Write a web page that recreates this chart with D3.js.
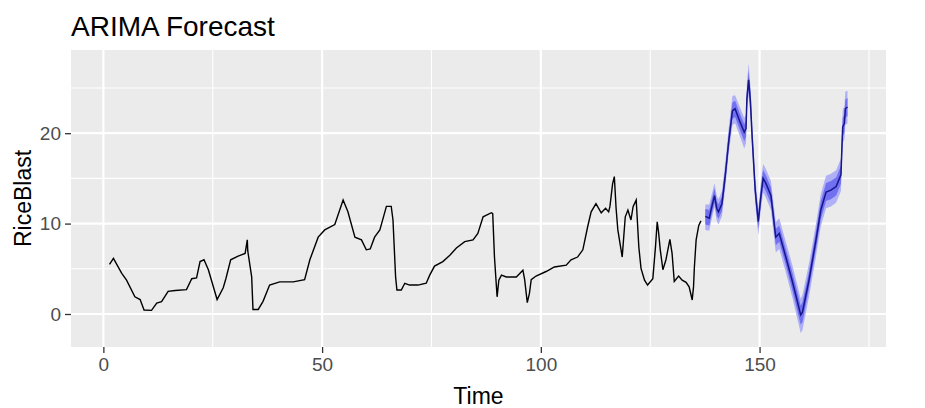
<!DOCTYPE html>
<html>
<head>
<meta charset="utf-8">
<script src="https://cdn.jsdelivr.net/npm/d3@7"></script>
<style>
    body { margin: 0; background: #fff; }
    text { font-family: "Liberation Sans", Arial, sans-serif; }
</style>
</head>
<body>
<div id="chart-view"></div>
<script>
// observed series (time, value)
var obsTime = [1.4, 2.3, 4.2, 5.3, 7.2, 8.4, 9.3, 11.0, 12.2, 13.3, 14.8, 16.4, 19.0, 20.2, 21.3, 22.1, 23.0, 24.0,
    26.0, 27.4, 28.0, 29.1, 30.8, 32.4, 32.9, 33.0, 33.9, 34.2, 35.4, 36.5, 38.0, 40.3, 43.4, 46.0, 47.2, 49.1,
    50.6, 52.9, 54.8, 55.9, 57.5, 59.0, 60.1, 61.0, 62.0, 63.2, 64.7, 65.8, 66.2, 66.8, 67.1, 68.1, 68.9, 70.0,
    71.9, 73.8, 74.6, 75.7, 77.6, 79.2, 80.7, 82.6, 84.5, 85.6, 86.8, 88.7, 89.0, 89.4, 90.0, 90.4, 91.0, 92.1,
    94.4, 95.9, 96.3, 96.9, 97.4, 97.8, 98.9, 101.2, 103.1, 105.8, 106.9, 108.4, 109.6, 110.7, 111.5, 112.6,
    113.8, 114.8, 115.5, 115.8, 116.4, 116.8, 117.2, 117.6, 118.6, 119.3, 119.9, 120.6, 121.1, 121.8, 122.4,
    122.9, 123.7, 124.4, 125.6, 126.2, 126.6, 126.9, 127.3, 127.9, 128.6, 129.5, 130.0, 130.5, 131.5, 132.3,
    133.2, 133.9, 134.6, 134.9, 135.1, 135.5, 136.1, 136.6];
var obsValue = [5.5, 6.15, 4.5, 3.75, 1.9, 1.6, 0.44, 0.4, 1.2, 1.36, 2.5, 2.6, 2.7, 3.9, 4.0, 5.8, 6.0, 4.9,
    1.6, 2.9, 3.9, 6.0, 6.4, 6.7, 8.2, 7.0, 4.1, 0.5, 0.5, 1.4, 3.2, 3.55, 3.55, 3.8, 6.0, 8.5,
    9.3, 9.9, 12.6, 11.3, 8.5, 8.2, 7.1, 7.2, 8.5, 9.3, 11.9, 11.9, 10.4, 4.1, 2.65, 2.65, 3.4, 3.2,
    3.2, 3.4, 4.3, 5.3, 5.8, 6.5, 7.3, 8.0, 8.2, 8.9, 10.75, 11.2, 11.1, 6.3, 1.9, 3.75, 4.3, 4.1,
    4.1, 4.85, 3.8, 1.25, 2.3, 3.8, 4.2, 4.7, 5.2, 5.4, 6.0, 6.3, 7.1, 9.65, 11.3, 12.2,
    11.2, 11.7, 11.3, 11.9, 14.4, 15.2, 11.7, 9.3, 6.3, 10.75, 11.5, 10.4, 11.9, 12.6, 7.4,
    5.05, 3.75, 3.2, 3.9, 7.4, 10.2, 9.1, 7.1, 4.9, 6.0, 8.25, 6.7, 3.6, 4.2, 3.75,
    3.5, 3.0, 1.55, 3.0, 5.2, 8.2, 9.8, 10.3];

// forecast: point forecast plus 80% and 95% intervals
var fcTime = [137.6, 138.5, 139.1, 139.7, 140.2, 140.6, 141.4, 142.2, 142.9, 143.8, 144.4, 145.4, 146.5, 146.9,
    147.1, 147.5, 147.9, 148.3, 149.0, 149.7, 150.3, 150.8, 151.4, 152.6, 153.7, 154.5, 156.0, 157.5, 159.4,
    159.8, 161.3, 162.9, 164.0, 165.2, 166.3, 167.5, 168.6, 169.0, 169.4, 169.6, 170.1];
var fcMean = [10.8, 10.6, 11.9, 13.1, 11.7, 11.3, 12.2, 15.5, 18.9, 22.5, 22.7, 21.4, 20.1, 20.5,
    23.8, 25.9, 23.6, 19.6, 13.7, 10.2, 13.0, 15.0, 14.5, 13.1, 8.5, 8.9, 6.3, 3.6, -0.1,
    0.2, 3.75, 8.2, 11.5, 13.5, 13.7, 14.1, 15.4, 20.7, 21.1, 22.7, 22.9];
var fcLo80 = [9.9, 9.8, 11.1, 12.3, 10.9, 10.5, 11.4, 14.7, 18.1, 21.6, 21.8, 20.5, 19.1, 19.6,
    22.9, 24.9, 22.7, 18.8, 12.9, 9.4, 12.2, 14.1, 13.6, 12.2, 7.6, 8.0, 5.4, 2.6, -1.2,
    -0.9, 2.8, 7.2, 10.5, 12.5, 12.7, 13.1, 14.4, 19.7, 20.1, 21.7, 21.9];
var fcHi80 = [11.6, 11.5, 12.7, 13.9, 12.5, 12.1, 13.0, 16.3, 19.7, 23.4, 23.6, 22.3, 21.0, 21.4,
    24.7, 26.9, 24.5, 20.4, 14.5, 11.0, 13.9, 15.9, 15.4, 14.0, 9.4, 9.8, 7.2, 4.6, 0.9,
    1.3, 4.7, 9.2, 12.5, 14.5, 14.7, 15.1, 16.4, 21.7, 22.1, 23.7, 23.9];
var fcLo95 = [9.3, 9.2, 10.6, 11.8, 10.3, 9.9, 10.8, 14.1, 17.5, 20.9, 21.1, 19.8, 18.3, 18.9,
    22.2, 24.2, 22.0, 18.1, 12.2, 8.7, 11.5, 13.4, 12.9, 11.5, 6.8, 7.2, 4.6, 1.8, -2.1,
    -1.8, 1.9, 6.4, 9.7, 11.7, 11.9, 12.3, 13.6, 18.9, 19.3, 20.9, 21.1];
var fcHi95 = [12.1, 12.1, 13.3, 14.5, 13.1, 12.7, 13.6, 17.0, 20.4, 24.1, 24.2, 23.0, 21.7, 22.1,
    25.6, 27.7, 25.3, 21.1, 15.2, 11.7, 14.6, 16.6, 16.1, 14.7, 10.2, 10.6, 8.0, 5.4, 1.7,
    2.1, 5.6, 10.0, 13.3, 15.3, 15.5, 15.9, 17.2, 22.6, 23.0, 24.6, 24.7];

// axis ticks and limits
var xTicks = [0, 50, 100, 150];
var xMinor = [25, 75, 125, 175];
var yTicks = [0, 10, 20];
var yMinor = [-5, 5, 15, 25];
var xLimits = [-7.4, 178.9];
var yLimits = [-3.65, 29.2];

/** Class drawing the forecast chart. */
class ForecastChart {
    constructor() {
        this.width = 925;
        this.height = 408;
        this.margin = {left: 71, right: 39, top: 50, bottom: 61};

        this.svg = d3.select("#chart-view")
            .append("svg")
            .attr("width", this.width)
            .attr("height", this.height);

        this.obs = obsTime.map(function(t, i) { return {t: t, v: obsValue[i]}; });
        this.fc = fcTime.map(function(t, i) {
            return {t: t, v: fcMean[i], lo80: fcLo80[i], hi80: fcHi80[i], lo95: fcLo95[i], hi95: fcHi95[i]};
        });
    }

    draw() {
        var m = this.margin;
        var pw = this.width - m.left - m.right;
        var ph = this.height - m.top - m.bottom;

        var x = d3.scaleLinear().domain(xLimits).range([m.left, m.left + pw]);
        var y = d3.scaleLinear().domain(yLimits).range([m.top + ph, m.top]);

        // panel background
        this.svg.append("rect")
            .attr("x", m.left).attr("y", m.top)
            .attr("width", pw).attr("height", ph)
            .attr("fill", "#ebebeb");

        var grid = this.svg.append("g");
        var xd = x.domain(), yd = y.domain();

        grid.selectAll(".xminor")
            .data(xMinor.filter(function(d) { return d > xd[0] && d < xd[1]; }))
            .enter().append("line")
            .attr("x1", x).attr("x2", x)
            .attr("y1", m.top).attr("y2", m.top + ph)
            .attr("stroke", "#fff").attr("stroke-width", 1.1);
        grid.selectAll(".yminor")
            .data(yMinor.filter(function(d) { return d > yd[0] && d < yd[1]; }))
            .enter().append("line")
            .attr("y1", y).attr("y2", y)
            .attr("x1", m.left).attr("x2", m.left + pw)
            .attr("stroke", "#fff").attr("stroke-width", 1.1);
        grid.selectAll(".xmajor")
            .data(xTicks)
            .enter().append("line")
            .attr("x1", x).attr("x2", x)
            .attr("y1", m.top).attr("y2", m.top + ph)
            .attr("stroke", "#fff").attr("stroke-width", 2.2);
        grid.selectAll(".ymajor")
            .data(yTicks)
            .enter().append("line")
            .attr("y1", y).attr("y2", y)
            .attr("x1", m.left).attr("x2", m.left + pw)
            .attr("stroke", "#fff").attr("stroke-width", 2.2);

        // prediction intervals
        var area95 = d3.area()
            .x(function(d) { return x(d.t); })
            .y0(function(d) { return y(d.lo95); })
            .y1(function(d) { return y(d.hi95); });
        var area80 = d3.area()
            .x(function(d) { return x(d.t); })
            .y0(function(d) { return y(d.lo80); })
            .y1(function(d) { return y(d.hi80); });

        this.svg.append("path").datum(this.fc)
            .attr("d", area95)
            .attr("fill", "#b0b0f6");
        this.svg.append("path").datum(this.fc)
            .attr("d", area80)
            .attr("fill", "#7070f0");

        var line = d3.line()
            .x(function(d) { return x(d.t); })
            .y(function(d) { return y(d.v); });

        this.svg.append("path").datum(this.obs)
            .attr("d", line)
            .attr("fill", "none")
            .attr("stroke", "#000")
            .attr("stroke-width", 1.4);
        this.svg.append("path").datum(this.fc)
            .attr("d", line)
            .attr("fill", "none")
            .attr("stroke", "#16168a")
            .attr("stroke-width", 1.5);

        // axes
        var xAxis = d3.axisBottom(x).tickValues(xTicks).tickSize(6).tickPadding(5);
        var yAxis = d3.axisLeft(y).tickValues(yTicks).tickSize(6).tickPadding(4);

        var gx = this.svg.append("g")
            .attr("transform", "translate(0," + (m.top + ph) + ")")
            .call(xAxis);
        var gy = this.svg.append("g")
            .attr("transform", "translate(" + m.left + ",0)")
            .call(yAxis);

        [gx, gy].forEach(function(g) {
            g.select(".domain").remove();
            g.selectAll(".tick line").attr("stroke", "#333").attr("stroke-width", 1.3);
            g.selectAll(".tick text")
                .attr("fill", "#4d4d4d")
                .style("font-size", "19px")
                .style("font-family", "'Liberation Sans', Arial, sans-serif");
        });

        // titles
        this.svg.append("text")
            .attr("x", m.left)
            .attr("y", 36)
            .style("font-size", "28px")
            .attr("fill", "#000")
            .text("ARIMA Forecast");

        this.svg.append("text")
            .attr("x", m.left + pw / 2)
            .attr("y", 404)
            .attr("text-anchor", "middle")
            .style("font-size", "23px")
            .attr("fill", "#000")
            .text("Time");

        this.svg.append("text")
            .attr("transform", "translate(31," + (m.top + ph / 2) + ") rotate(-90)")
            .attr("text-anchor", "middle")
            .style("font-size", "23px")
            .attr("fill", "#000")
            .text("RiceBlast");
    }
}

var chart = new ForecastChart();
chart.draw();
</script>
</body>
</html>
